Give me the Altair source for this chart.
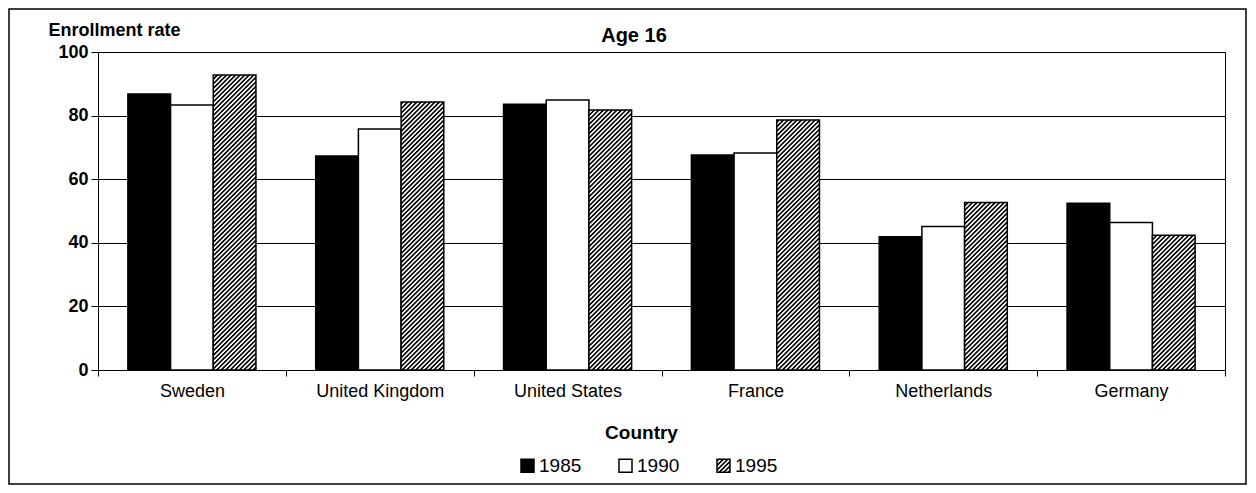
import altair as alt
import pandas as pd

countries = ["Sweden", "United Kingdom", "United States", "France", "Netherlands", "Germany"]
years = ["1985", "1990", "1995"]
rate_1985 = [86.8, 67.3, 83.6, 67.6, 41.9, 52.4]
rate_1990 = [83.3, 75.8, 84.9, 68.2, 45.1, 46.4]
rate_1995 = [92.8, 84.3, 81.8, 78.6, 52.7, 42.4]
y_ticks = [0, 20, 40, 60, 80, 100]
fills = ["black", "white", "url(#hatch)"]

rows = []
for yr, vals in zip(years, [rate_1985, rate_1990, rate_1995]):
    for c, v in zip(countries, vals):
        rows.append({"Country": c, "Year": yr, "Rate": v})
df = pd.DataFrame(rows)

FONT = "Liberation Sans"

bars = alt.Chart(df).mark_bar(stroke="black", strokeWidth=1.5).encode(
    x=alt.X("Country:N", sort=countries,
            scale=alt.Scale(paddingInner=0, paddingOuter=0),
            axis=alt.Axis(title="Country", labelAngle=0, tickBand="extent",
                          domainColor="black", tickColor="black", tickSize=6,
                          labelFontSize=18, labelColor="black", labelPadding=6,
                          labelFont=FONT, titleFont=FONT, titleFontSize=19,
                          titleFontWeight="bold", titleColor="black",
                          titleX=543, titleY=68, titleBaseline="alphabetic",
                          grid=False)),
    xOffset=alt.XOffset("Year:N", sort=years,
                        scale=alt.Scale(paddingInner=0, paddingOuter=0.7)),
    y=alt.Y("Rate:Q", scale=alt.Scale(domain=[0, 100]),
            axis=alt.Axis(title="Enrollment rate", values=y_ticks,
                          domainColor="black", tickColor="black", tickSize=7,
                          labelFontSize=18, labelColor="black", labelPadding=3,
                          labelFont=FONT, labelFontWeight="bold",
                          titleFont=FONT, titleFontSize=18, titleFontWeight="bold",
                          titleColor="black", titleAngle=0, titleAlign="left",
                          titleBaseline="alphabetic", titleX=-50, titleY=-17,
                          grid=True, gridColor="black", gridWidth=1)),
    fill=alt.Fill("Year:N", sort=years,
                  scale=alt.Scale(domain=years, range=fills),
                  legend=alt.Legend(title=None, orient="none", direction="horizontal",
                                    legendX=420, legendY=404,
                                    symbolType="square", symbolSize=169,
                                    symbolStrokeColor="black", symbolStrokeWidth=1.5,
                                    labelFont=FONT, labelFontSize=19, labelColor="black",
                                    labelOffset=2, columnPadding=34)),
)

title_df = pd.DataFrame({"t": ["Age 16"]})
title = alt.Chart(title_df).mark_text(
    font=FONT, fontSize=20, fontWeight="bold", color="black",
    align="center", baseline="alphabetic"
).encode(text="t:N", x=alt.value(536), y=alt.value(-10))

frame = alt.Chart(title_df).mark_rect(
    fill="transparent", stroke="black", strokeWidth=1.5
).encode(x=alt.value(-89), x2=alt.value(1148), y=alt.value(-43), y2=alt.value(432))

chart = alt.layer(bars, title, frame).properties(
    width=1127, height=318,
    autosize=alt.AutoSizeParams(type="none"),
    padding={"left": 90, "top": 44, "right": 22, "bottom": 115},
    background="white",
).configure_view(stroke="black", strokeWidth=1)

chart.save("out.html", embed_options={"renderer": "svg", "actions": False})

# add the diagonal hatch pattern used by the 1995 bars
defs = ('<svg width="0" height="0" style="position:absolute">'
        '<defs><pattern id="hatch" patternUnits="userSpaceOnUse" width="3.2" height="3.2" '
        'patternTransform="rotate(45)">'
        '<rect width="3.2" height="3.2" fill="white"/>'
        '<line x1="1.6" y1="-1" x2="1.6" y2="5" stroke="black" stroke-width="1.6"/>'
        '</pattern></defs></svg>')
with open("out.html", encoding="utf-8") as f:
    html = f.read()
if "<body>" in html:
    html = html.replace("<body>", "<body>" + defs, 1)
else:
    html = html.replace("<div", defs + "<div", 1)
with open("out.html", "w", encoding="utf-8") as f:
    f.write(html)
